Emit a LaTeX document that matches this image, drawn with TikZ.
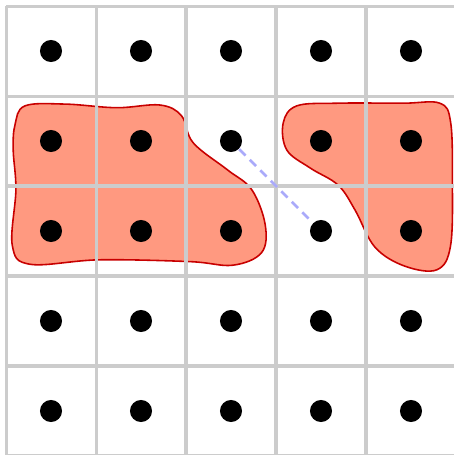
\documentclass[tikz,border=0pt]{standalone}
\usepackage{xcolor}
\usepackage{tikz}
\usetikzlibrary{positioning}

\definecolor{blobfill}{RGB}{255,153,128}
\definecolor{blobline}{RGB}{200,0,0}
\definecolor{gridgray}{RGB}{204,204,204}
\definecolor{linklav}{RGB}{170,170,250}

\begin{document}
\begin{tikzpicture}[
        gridline/.style={draw=gridgray, line width=0.95pt},
        blob/.style={fill=blobfill, draw=blobline, line width=0.5pt},
        dot/.style={circle, fill=black, minimum size=0.245cm, inner sep=0pt},
        link/.style={draw=linklav, line width=0.8pt, dash pattern=on 2.8pt off 1.9pt}
    ]
        \useasboundingbox (-0.0667,0.0111) rectangle (4.9778,5.0667);

        % clusters
        \draw[blob] plot[smooth cycle, tension=0.6] coordinates {
            (0.10,3.68) (0.21,3.89) (0.66,3.91) (1.23,3.87) (1.71,3.90)
            (1.95,3.78) (2.08,3.48) (2.46,3.18) (2.73,2.96) (2.88,2.57)
            (2.84,2.26) (2.52,2.12) (2.04,2.16) (1.04,2.18) (0.27,2.13)
            (0.07,2.34) (0.11,2.96) (0.08,3.40)};
        \draw[blob] plot[smooth cycle, tension=0.6] coordinates {
            (3.08,3.70) (3.23,3.89) (3.68,3.92) (4.41,3.92) (4.82,3.92)
            (4.94,3.71) (4.96,3.07) (4.94,2.34) (4.79,2.07) (4.43,2.11)
            (4.10,2.32) (3.88,2.73) (3.69,3.01) (3.38,3.20) (3.12,3.40)};

        \draw[gridline] (0,0) grid (5,5);

        % points
        \foreach \i in {0,...,4}
            \foreach \j in {0,...,4}
                \node[dot] (d-\i-\j) at (\i+0.5,\j+0.5) {};

        \draw[link] (d-2-3) -- (d-3-2);
    \end{tikzpicture}
\end{document}
